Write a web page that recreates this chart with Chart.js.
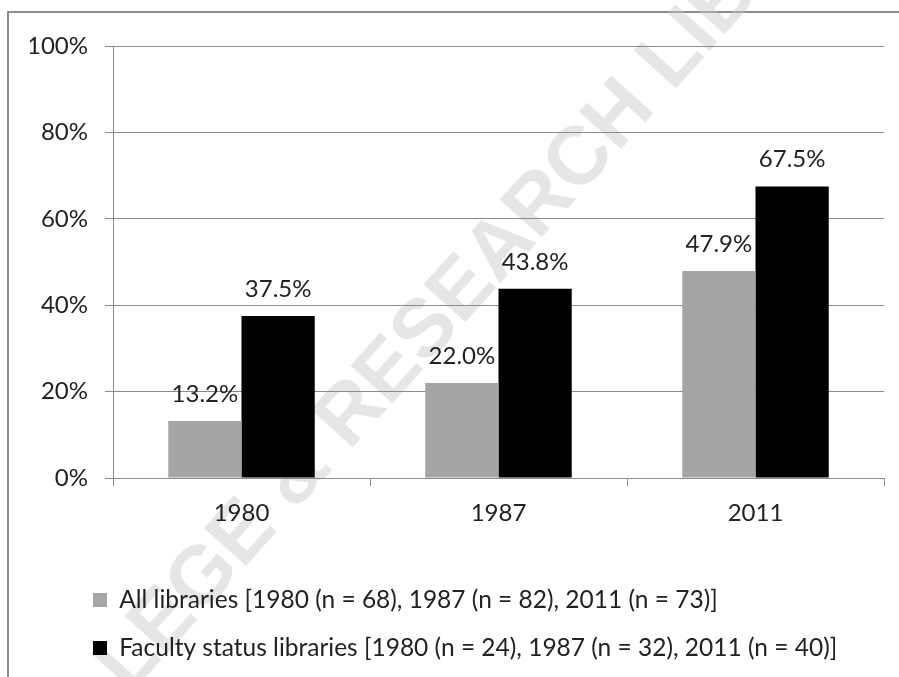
<!DOCTYPE html>
<html>
<head>
<meta charset="utf-8">
<script src="https://cdn.jsdelivr.net/npm/chart.js@4.4.1/dist/chart.umd.min.js"></script>
<style>
  html, body { margin: 0; padding: 0; background: #fff; overflow: hidden; }
  #frame { position: absolute; left: 7px; top: 11px; width: 1000px; height: 1000px; border: 2px solid #8c8c8c; }
  #mark { position: absolute; left: 470px; top: 275px; transform: translate(-50%, -50%) rotate(-48deg);
          font: bold 82px "Liberation Sans"; color: rgba(200, 200, 200, 0.45); white-space: nowrap; }
  #wrap { position: absolute; left: 0; top: 0; width: 899px; height: 677px; }
</style>
</head>
<body>
<div id="frame"></div>
<div id="mark">COLLEGE &amp; RESEARCH LIBRARIES</div>
<div id="wrap"><canvas id="chart"></canvas></div>
<script>
const years = ['1980', '1987', '2011'];
const allLibraries = [13.2, 22.0, 47.9];
const facultyStatus = [37.5, 43.8, 67.5];
const seriesNames = [
    'All libraries [1980 (n = 68), 1987 (n = 82), 2011 (n = 73)]',
    'Faculty status libraries [1980 (n = 24), 1987 (n = 32), 2011 (n = 40)]'
];
const yTicks = [0, 20, 40, 60, 80, 100];

const FONT = { family: 'Lato', size: 24 };
const LEGEND_FONT = { family: 'Lato', size: 24.5 };
const TEXT = '#222';
const LINE = '#8a8a8a';

// percent labels above each bar
const valueLabels = {
    id: 'valueLabels',
    afterDatasetsDraw(chart) {
        const ctx = chart.ctx;
        ctx.save();
        ctx.font = FONT.size + 'px ' + FONT.family;
        ctx.fillStyle = TEXT;
        ctx.textAlign = 'center';
        ctx.textBaseline = 'middle';
        chart.data.datasets.forEach((ds, i) => {
            chart.getDatasetMeta(i).data.forEach((bar, j) => {
                ctx.fillText(ds.data[j].toFixed(1) + '%', bar.x, bar.y - 27);
            });
        });
        ctx.restore();
    }
};

// legend sits left-aligned under the plot, like the Excel original
const legendSpot = {
    id: 'legendSpot',
    beforeDraw(chart) {
        const lg = chart.legend;
        const h = lg.bottom - lg.top;
        lg.left = 69.5;
        lg.right = 899;
        lg.top = 564.25;
        lg.bottom = 564.25 + h;
    }
};

new Chart(document.getElementById('chart'), {
    type: 'bar',
    data: {
        labels: years,
        datasets: [
            { label: seriesNames[0], data: allLibraries, backgroundColor: '#a5a5a5' },
            { label: seriesNames[1], data: facultyStatus, backgroundColor: '#000000' }
        ]
    },
    plugins: [valueLabels, legendSpot],
    options: {
        responsive: true,
        maintainAspectRatio: false,
        animation: false,
        datasets: { bar: { barPercentage: 1, categoryPercentage: 0.57 } },
        layout: { padding: { left: 30, right: 15, top: 46, bottom: 0 } },
        plugins: {
            tooltip: { enabled: false },
            legend: {
                position: 'bottom',
                align: 'start',
                labels: { font: LEGEND_FONT, color: TEXT, boxWidth: 14, boxHeight: 14, padding: 23.5 }
            }
        },
        scales: {
            x: {
                grid: { offset: true, drawOnChartArea: false, tickLength: 8, color: LINE },
                border: { color: LINE },
                ticks: { font: FONT, color: TEXT, padding: 13 },
                afterFit: s => {
                    const lh = s.chart.legend ? s.chart.legend.height : 144;
                    s.height = 677 - lh - 478;
                }
            },
            y: {
                min: 0,
                max: 100,
                grid: { tickLength: 8, color: LINE },
                border: { color: LINE },
                ticks: { font: FONT, color: TEXT, padding: 17, callback: v => v + '%' },
                afterBuildTicks: s => { s.ticks = yTicks.map(v => ({ value: v })); },
                afterFit: s => { s.width = 83; }
            }
        }
    }
});
</script>
</body>
</html>
